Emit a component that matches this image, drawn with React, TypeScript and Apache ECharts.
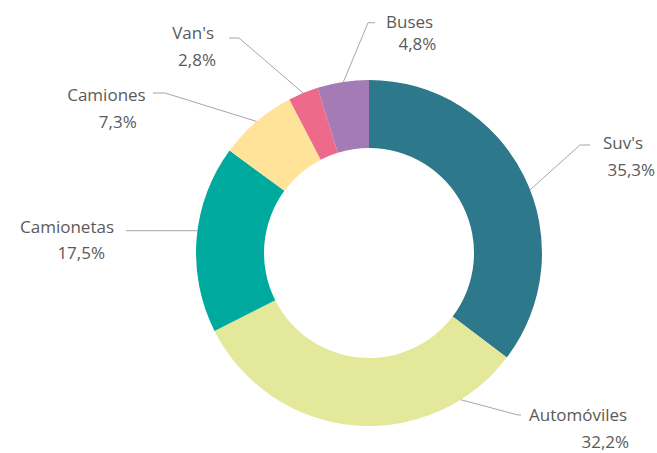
import React, { useEffect, useRef } from "react";
import * as echarts from "echarts";

const categories = ["Suv's", "Automóviles", "Camionetas", "Camiones", "Van's", "Buses"];
const shares = [35.3, 32.2, 17.5, 7.3, 2.8, 4.8];
const sliceColors = ["#2E788B", "#E4E89A", "#00A99E", "#FEE398", "#EE6A8A", "#A57BB6"];

// layout of the outside labels (annotation placement only)
const CENTER = [369, 253];
const R_OUT = 173;
const R_IN = 105;
const labelSpecs = [
  { side: "right", x: 603, nameY: 142.5, gap: 26.5, pctShift: 4.5, nameShift: 0, anchor: 68.6, elbow: [580, 145], end: [590, 145] },
  { side: "right", x: 529, nameY: 415, gap: 26.3, pctShift: 52.5, nameShift: 0, anchor: 148, elbow: [518, 415], end: [521, 415] },
  { side: "left", x: 114, nameY: 226.3, gap: 26.7, pctShift: 9, nameShift: 0, anchor: 277.4, elbow: [150, 230.7], end: [126, 230.7] },
  { side: "left", x: 145.7, nameY: 94, gap: 27, pctShift: 9, nameShift: 0, anchor: 319.5, elbow: [165, 93], end: [153, 93] },
  { side: "left", x: 216, nameY: 32, gap: 27.5, pctShift: 0, nameShift: 2, anchor: 337.6, elbow: [239, 38], end: [229, 38] },
  { side: "right", x: 386, nameY: 22, gap: 21.7, pctShift: 12.5, nameShift: 0, anchor: 351.5, elbow: [368, 22.7], end: [375, 22.7] },
];

const FONT = "'Open Sans', sans-serif";
const FONT_SIZE = 17;
const TEXT_COLOR = "#5A5A5A";
const PCT_LH = 16;

function fmtPct(v: number) {
  return v.toFixed(1).replace(".", ",") + "%";
}

export default function App() {
  const ref = useRef<HTMLDivElement>(null);
  useEffect(() => {
    if (!ref.current) return;
    const chart = echarts.init(ref.current, null, { renderer: "svg" });

    const rich: Record<string, any> = {};
    labelSpecs.forEach((s, i) => {
      const al = s.side === "left" ? "right" : "left";
      rich["n" + i] = {
        fontFamily: FONT,
        fontSize: FONT_SIZE,
        color: TEXT_COLOR,
        lineHeight: 2 * s.gap - PCT_LH,
        align: al,
        padding: al === "right" ? [0, s.nameShift, 0, 0] : [0, 0, 0, s.nameShift],
      };
      rich["p" + i] = {
        fontFamily: FONT,
        fontSize: FONT_SIZE,
        color: TEXT_COLOR,
        lineHeight: PCT_LH,
        align: al,
        padding: al === "right" ? [0, s.pctShift, 0, 0] : [0, 0, 0, s.pctShift],
      };
    });

    const option: any = {
      animation: false,
      backgroundColor: "#ffffff",
      series: [
        {
          type: "pie",
          center: CENTER,
          radius: [R_IN, R_OUT],
          startAngle: 90,
          clockwise: true,
          avoidLabelOverlap: false,
          itemStyle: { borderWidth: 0 },
          emphasis: { disabled: true },
          data: categories.map((c, i) => ({
            name: c,
            value: shares[i],
            itemStyle: { color: sliceColors[i] },
          })),
          label: {
            show: true,
            position: "outside",
            fontFamily: FONT,
            fontSize: FONT_SIZE,
            color: TEXT_COLOR,
            formatter: (p: any) => `{n${p.dataIndex}|${p.name}}\n{p${p.dataIndex}|${fmtPct(p.value)}}`,
            rich,
          },
          labelLine: {
            show: true,
            smooth: false,
            lineStyle: { color: "#A6A6A6", width: 1 },
          },
          labelLayout: (params: any) => {
            const s = labelSpecs[params.dataIndex];
            const a = (s.anchor * Math.PI) / 180;
            const start = [CENTER[0] + R_OUT * Math.sin(a), CENTER[1] - R_OUT * Math.cos(a)];
            const nameLH = 2 * s.gap - PCT_LH;
            return {
              x: s.x,
              y: s.nameY - nameLH / 2,
              align: s.side === "left" ? "right" : "left",
              verticalAlign: "top",
              labelLinePoints: [start, s.elbow, s.end],
            };
          },
        },
      ],
    };
    chart.setOption(option);
    return () => chart.dispose();
  }, []);
  return (
    <div
      ref={ref}
      style={{ position: "absolute", left: 0, top: 0, width: 657, height: 453 }}
    />
  );
}
